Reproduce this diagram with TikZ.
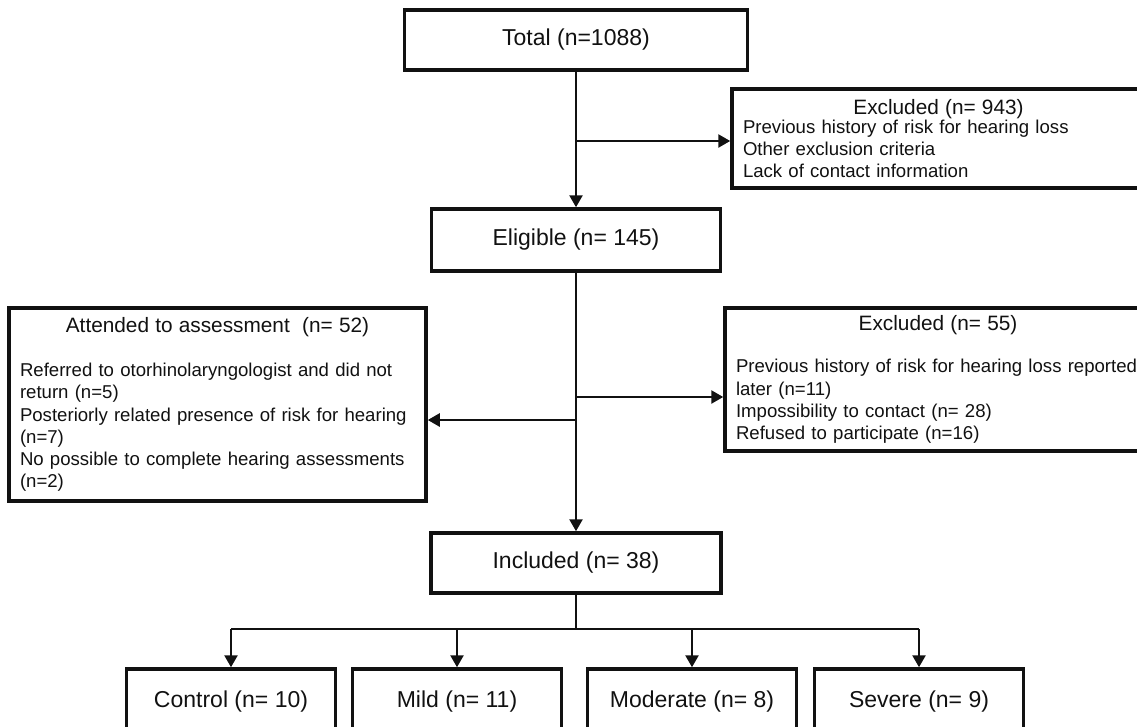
\documentclass[tikz,border=0pt]{standalone}
\usepackage{fontspec}
\setmainfont{Liberation Sans}
\usetikzlibrary{arrows.meta}

\definecolor{flowInk}{HTML}{111111}
\newcommand{\bigtxt}{\fontsize{23}{27}\selectfont}
\newcommand{\midtxt}{\fontsize{20.8}{24}\selectfont}
\newcommand{\smalltxt}{\fontsize{18.6}{22.2}\selectfont\hyphenpenalty=10000\relax}

\begin{document}
\begin{tikzpicture}[x=1pt,y=-1pt,color=flowInk,
  box/.style={draw,line width=3.5pt,inner sep=0pt,font=\bigtxt},
  groupbox/.style={box,minimum width=209pt,minimum height=66pt},
  listbox/.style={draw,line width=3.5pt,inner xsep=11pt,inner ysep=0pt,align=left,font=\smalltxt},
  link/.style={line width=2.5pt},
  flow/.style={link,-{Triangle[length=12pt,width=13pt]}}]
  \useasboundingbox (0,0) rectangle (1137,726);

  % main column
  \node[box,minimum width=343pt,minimum height=60pt] (total) at (576,40) {Total (n=1088)};
  \node[box,minimum width=289pt,minimum height=62pt] (eligible) at (576,240) {Eligible (n= 145)};
  \node[box,minimum width=290pt,minimum height=60pt] (included) at (576,563) {Included (n= 38)};

  % side boxes (right ones run off the page)
  \node[listbox,text width=391pt,minimum height=99pt] (excl1) at (938.5,138.5) {%
    \makebox[\linewidth]{\midtxt Excluded (n= 943)}\\[-3pt]
    Previous history of risk for hearing loss\\
    Other exclusion criteria\\
    Lack of contact information};
  \node[listbox,text width=404pt,minimum height=143pt] (excl2) at (938,379.5) {%
    \makebox[\linewidth]{\midtxt Excluded (n= 55)}\\[20pt]
    Previous history of risk for hearing loss reported\\
    later (n=11)\\
    Impossibility to contact (n= 28)\\
    Refused to participate (n=16)};
  \node[listbox,text width=395pt,minimum height=193pt] (attended) at (217.5,404.5) {%
    \makebox[\linewidth]{\midtxt Attended to assessment\ \ (n= 52)}\\[22pt]
    Referred to otorhinolaryngologist and did not\\
    return (n=5)\\
    Posteriorly related presence of risk for hearing\\
    (n=7)\\
    No possible to complete hearing assessments\\
    (n=2)};

  % groups
  \node[groupbox] (control) at (231,702) {Control (n= 10)};
  \node[groupbox] (mild) at (457,702) {Mild (n= 11)};
  \node[groupbox] (moderate) at (692,702) {Moderate (n= 8)};
  \node[groupbox] (severe) at (919,702) {Severe (n= 9)};

  % connectors
  \draw[flow] (total.south) -- (eligible.north);
  \coordinate (j1) at (576,141);
  \draw[flow] (j1) -- (j1 -| excl1.west);
  \draw[flow] (eligible.south) -- (included.north);
  \coordinate (j2) at (576,397);
  \draw[flow] (j2) -- (j2 -| excl2.west);
  \coordinate (j3) at (576,420);
  \draw[flow] (j3) -- (j3 -| attended.east);
  \draw[link] (included.south) -- ++(0,34) coordinate (split);
  \draw[link] (split -| control.north) -- (split -| severe.north);
  \foreach \grp in {control,mild,moderate,severe}
    \draw[flow] (split -| \grp.north) -- (\grp.north);
\end{tikzpicture}
\end{document}
